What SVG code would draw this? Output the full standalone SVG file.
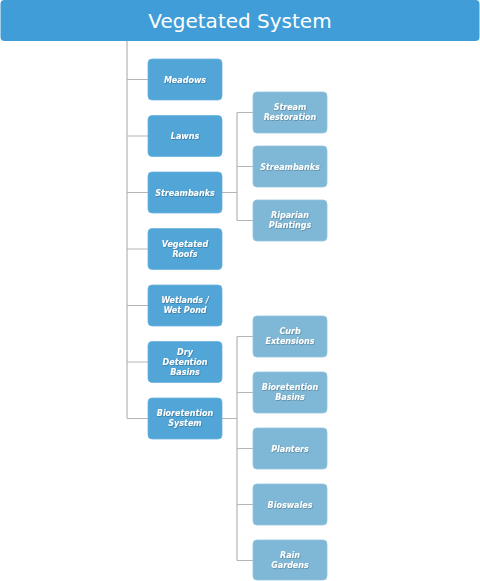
<svg xmlns="http://www.w3.org/2000/svg" width="480" height="581" viewBox="0 0 480 581">
<style>
.hdr{fill:#419DD8}
.n1{fill:#51A5D7;stroke:#6DB3DE;stroke-width:0.8}
.n2{fill:#7EB8D6;stroke:#95C4DD;stroke-width:0.8}
.t{font-family:"DejaVu Sans","Liberation Sans",sans-serif;font-size:8px;font-weight:bold;font-style:italic;fill:#FFFFFF;text-anchor:middle;filter:url(#sh)}
.ht{font-family:"DejaVu Sans","Liberation Sans",sans-serif;font-size:20px;fill:#FFFFFF;text-anchor:middle}
.c{fill:none;stroke:#B5B5B5;stroke-width:1.2}
</style>
<defs>
<filter id="sh" x="-20%" y="-40%" width="140%" height="180%">
<feDropShadow dx="0.6" dy="0.6" stdDeviation="0.3" flood-color="#000000" flood-opacity="0.35"/>
</filter>
</defs>
<g id="connectors">
<path class="c" d="M127 41V418.5M127 79.5H148M127 136H148M127 192.5H148M127 249H148M127 305.5H148M127 362H148M127 418.5H148"/>
<path class="c" d="M222 192.5H237M237 112.5V220.5M237 112.5H253M237 166.5H253M237 220.5H253"/>
<path class="c" d="M222 418.5H237M237 336.5V560.5M237 336.5H253M237 392.5H253M237 448.5H253M237 504.5H253M237 560.5H253"/>
</g>
<g id="root">
<rect class="hdr" x="0.5" y="0" width="479" height="41" rx="4"/>
<text class="ht" x="240" y="28">Vegetated System</text>
</g>
<g id="meadows"><rect class="n1" x="148" y="59" width="74" height="41" rx="4"/><text class="t" x="185" y="82.5">Meadows</text></g>
<g id="lawns"><rect class="n1" x="148" y="115.5" width="74" height="41" rx="4"/><text class="t" x="185" y="139">Lawns</text></g>
<g id="streambanks1"><rect class="n1" x="148" y="172" width="74" height="41" rx="4"/><text class="t" x="185" y="195.5">Streambanks</text></g>
<g id="vegetated-roofs"><rect class="n1" x="148" y="228.5" width="74" height="41" rx="4"/><text class="t" x="185" y="246.5">Vegetated</text><text class="t" x="185" y="256.5">Roofs</text></g>
<g id="wetlands"><rect class="n1" x="148" y="285" width="74" height="41" rx="4"/><text class="t" x="185" y="303">Wetlands /</text><text class="t" x="185" y="313">Wet Pond</text></g>
<g id="dry-detention"><rect class="n1" x="148" y="341.5" width="74" height="41" rx="4"/><text class="t" x="185" y="355.3">Dry</text><text class="t" x="185" y="365">Detention</text><text class="t" x="185" y="374.7">Basins</text></g>
<g id="bioretention-system"><rect class="n1" x="148" y="398" width="74" height="41" rx="4"/><text class="t" x="185" y="416">Bioretention</text><text class="t" x="185" y="426">System</text></g>
<g id="stream-restoration"><rect class="n2" x="253" y="92" width="74" height="41" rx="4"/><text class="t" x="290" y="110.3">Stream</text><text class="t" x="290" y="120">Restoration</text></g>
<g id="streambanks2"><rect class="n2" x="253" y="146" width="74" height="41" rx="4"/><text class="t" x="290" y="169.5">Streambanks</text></g>
<g id="riparian"><rect class="n2" x="253" y="200" width="74" height="41" rx="4"/><text class="t" x="290" y="218">Riparian</text><text class="t" x="290" y="228">Plantings</text></g>
<g id="curb-extensions"><rect class="n2" x="253" y="316" width="74" height="41" rx="4"/><text class="t" x="290" y="334">Curb</text><text class="t" x="290" y="344">Extensions</text></g>
<g id="bioretention-basins"><rect class="n2" x="253" y="372" width="74" height="41" rx="4"/><text class="t" x="290" y="390">Bioretention</text><text class="t" x="290" y="400">Basins</text></g>
<g id="planters"><rect class="n2" x="253" y="428" width="74" height="41" rx="4"/><text class="t" x="290" y="451.5">Planters</text></g>
<g id="bioswales"><rect class="n2" x="253" y="484" width="74" height="41" rx="4"/><text class="t" x="290" y="507.5">Bioswales</text></g>
<g id="rain-gardens"><rect class="n2" x="253" y="540" width="74" height="40" rx="4"/><text class="t" x="290" y="558">Rain</text><text class="t" x="290" y="568">Gardens</text></g>
</svg>
